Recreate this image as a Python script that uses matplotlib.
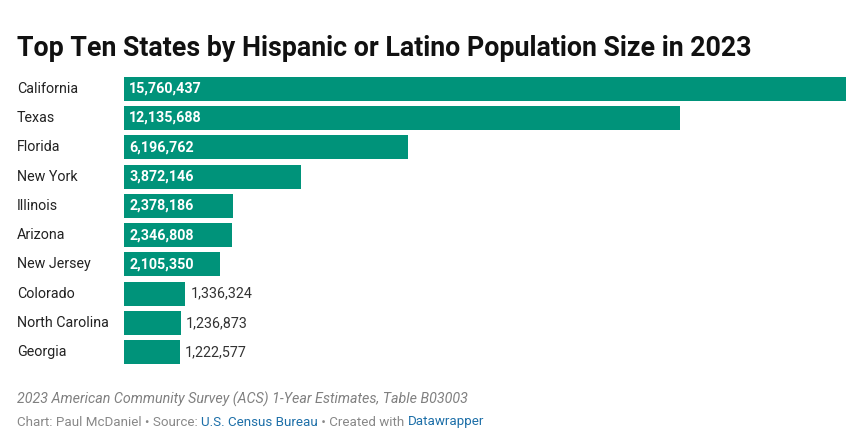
import matplotlib
matplotlib.use("Agg")
import matplotlib.pyplot as plt

states = ["California", "Texas", "Florida", "New York", "Illinois", "Arizona",
          "New Jersey", "Colorado", "North Carolina", "Georgia"]
population = [15760437, 12135688, 6196762, 3872146, 2378186, 2346808,
              2105350, 1336324, 1236873, 1222577]

plt.rcParams["font.family"] = ["Roboto", "DejaVu Sans"]
W, H = 862, 447
fig = plt.figure(figsize=(W / 100, H / 100), dpi=100)
fig.patch.set_facecolor("white")

# axes in pixel coords
left, right, top, bottom = 124, 846, 74, 367
ax = fig.add_axes([left / W, 1 - bottom / H, (right - left) / W, (bottom - top) / H])
ys = list(range(len(states)))
ax.barh(ys, population, height=0.82, color="#00937a")
ax.set_xlim(0, max(population))
ax.set_ylim(len(states) - 0.5, -0.5)
ax.axis("off")

for y, name, v in zip(ys, states, population):
    fig.text(17 / W, 1 - (top + (y + 0.5) * (bottom - top) / len(states)) / H, name,
             ha="left", va="center", fontsize=10.3, color="#222222")
    label = f"{v:,}"
    if v > 2000000:
        ax.text(max(population) * 0.007, y, label, ha="left", va="center",
                fontsize=10.3, color="white", fontweight="bold")
    else:
        ax.text(v + max(population) * 0.007, y, label, ha="left", va="center",
                fontsize=10.3, color="#333333")

fig.text(17 / W, 1 - 48 / H, "Top Ten States by Hispanic or Latino Population Size in 2023",
         ha="left", va="center", fontsize=19.3, fontweight="bold", color="#111111")
fig.text(17 / W, 1 - 399 / H,
         "2023 American Community Survey (ACS) 1-Year Estimates, Table B03003",
         ha="left", va="center", fontsize=10.3, style="italic", color="#808080")

# footer with coloured link text
x = 17 / W
yb = 1 - 422 / H
parts = [("Chart: Paul McDaniel • Source: ", "#888888"), ("U.S. Census Bureau", "#1d6fa8"),
         (" • Created with ", "#888888"), ("Datawrapper", "#1d6fa8")]
fig.canvas.draw()
r = fig.canvas.get_renderer()
for txt, col in parts:
    t = fig.text(x, yb, txt, ha="left", va="center", fontsize=9.6, color=col)
    bb = t.get_window_extent(renderer=r)
    x += bb.width / W

fig.savefig("out.png", dpi=100)
